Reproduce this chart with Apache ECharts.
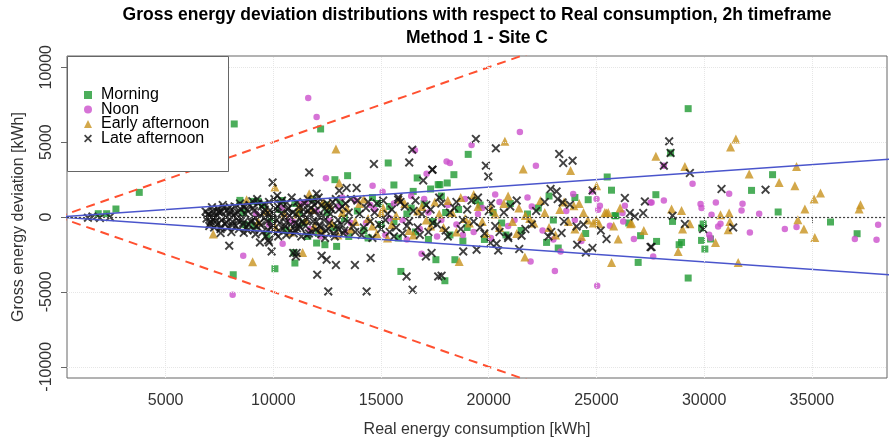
<!DOCTYPE html>
<html>
<head>
<meta charset="utf-8">
<script src="https://cdn.jsdelivr.net/npm/echarts@6/dist/echarts.min.js"></script>
<style>html,body{margin:0;padding:0;background:#fff}#c{width:889px;height:439px}</style>
</head>
<body>
<div id="c"></div>
<script>
// ---------- data ----------
var seriesNames = ['Morning', 'Noon', 'Early afternoon', 'Late afternoon'];
var xTicks = [5000, 10000, 15000, 20000, 25000, 30000, 35000];
var yTicks = [-10000, -5000, 0, 5000, 10000];
var xRange = [420, 38490];
var yRange = [-10750, 10750];
var refSlopesRed = [0.5, -0.5];
var refSlopesBlue = [0.1, -0.1];

var morning = [[1871,220],[2260,220],[2692,534],[3775,1643],[8184,6212],[8138,-3855],[12195,5878],[15333,3607],[12859,2492],[13448,2759],[16679,2605],[17654,2158],[17301,1870],[15597,2138],[16493,1710],[8449,1109],[9066,1042],[9298,1042],[10073,-3454],[11001,-3073],[12937,-1963],[15921,-3634],[17964,-4255],[19047,4182],[18382,2826],[17732,2158],[18073,2271],[25500,2672],[25700,1790],[27759,1490],[24617,1156],[25856,87],[26938,-3033],[23226,-2071],[22685,-1697],[27049,-1249],[27792,-1630],[18429,-2852],[17547,-2852],[29259,7234],[28442,4275],[33177,2826],[32201,1777],[33437,334],[35868,-334],[28533,-294],[29955,-468],[29880,-735],[29259,-4075],[37103,-1116],[30297,-1470],[30033,-2138],[29880,-1563],[28840,-1850],[28952,-1697],[25903,87],[12009,-1737],[8681,-514],[12394,-1850],[10955,-2385],
[8600,300],[9100,-600],[9500,800],[9900,-200],[10300,500],[10600,-900],[11000,900],[11400,-400],[11800,1200],[12100,-1100],[12500,300],[12800,-700],[13100,1000],[13500,-1300],[13900,400],[14200,-900],[14600,1300],[15000,-500],[15400,700],[15800,-1400],[16200,200],[16600,-1000],[17000,900],[17400,-300],[17800,1400],[18200,-1200],[18600,500],[19000,-700],[19400,1100],[19800,-1500],[20200,300],[20600,-400],[21000,900],[21500,-900],[22300,600],[23000,-200],[24000,1300],[24500,-1100],[26500,-400],
[9700,-1200],[10400,1100],[11200,300],[11600,-1300],[12400,800],[13300,-100],[14400,-1400],[14900,900],[15600,-300],[16400,600],[17200,-1500],[18000,300],[18800,-1600],[19600,800],[20800,-1200],[21800,200],[22800,1400]];

var noon = [[11619,7949],[12009,6680],[8110,-5190],[8602,-2585],[12441,2579],[16572,4449],[17115,2892],[14608,2091],[15072,1690],[21446,5678],[19204,4810],[18044,3714],[18197,3607],[22189,3427],[23921,1536],[27513,975],[25006,1202],[25160,755],[25082,488],[26242,-294],[23071,-3607],[25035,-4589],[21943,-2966],[16882,-2452],[10431,-1784],[23335,-2298],[25624,-581],[26738,-1470],[26320,755],[26212,267],[28130,3427],[29463,2224],[31161,1556],[28130,1109],[27560,975],[29834,868],[29880,601],[30544,975],[31783,888],[31737,441],[32555,220],[30343,154],[38078,-514],[30651,-628],[36997,-1470],[38004,-1516],[34290,-668],[33747,-802],[32123,-1029],[30760,-448],[30232,-1182],[30297,-1403],[27636,-2632],
[9200,200],[9800,-500],[10400,600],[10900,-300],[11300,900],[11700,-800],[12000,400],[12600,-200],[13000,700],[13400,-1000],[13800,1100],[14300,-400],[14700,500],[15200,-1200],[15600,900],[16000,-200],[16400,1400],[16800,-800],[17200,300],[17600,-1300],[18100,800],[18500,-500],[18900,1200],[19300,-1000],[19700,600],[20100,-1400],[20500,1000],[20900,-600],[21800,1300],[22500,-900],[23600,400],[24300,-1600],[24800,1700],
[10700,-100],[11500,1000],[12200,-1300],[13200,1300],[13600,-400],[14500,800],[15400,-100],[16200,-1500],[17000,1200],[17800,-200],[18800,-1200],[19500,200],[20300,1500],[21200,-200],[22000,700],[23000,-1500],[24000,-200]];

var earlyAfternoon = [[7209,-1136],[9038,-2986],[11359,-2365],[12905,4542],[10073,2004],[11665,1556],[13058,2271],[8759,1156],[20749,5050],[21600,3206],[23800,3113],[27759,4048],[25006,2091],[23953,755],[25392,307],[25547,307],[26584,-448],[25702,-3033],[21678,-2672],[18629,-2966],[26010,-1470],[24310,-1296],[24850,-401],[25128,-448],[26631,-401],[25468,267],[29106,3380],[31473,5210],[31226,4676],[32091,2872],[33483,2311],[34212,2091],[34290,3380],[35404,1603],[35107,1202],[34676,534],[28488,534],[28952,441],[30760,154],[31161,267],[37261,822],[37197,534],[34351,-180],[31195,-294],[31580,-3033],[35138,-1363],[34630,-802],[31117,-848],[30529,-1697],[28998,-802],[28794,-2298],[29338,-448],
[9300,-300],[9700,400],[10100,-700],[10500,200],[10800,-1000],[11200,700],[11500,-200],[11900,-600],[12300,1000],[12700,-400],[13200,300],[13600,-800],[14000,900],[14400,-100],[14800,-1100],[15100,600],[15500,-500],[15900,1200],[16300,-900],[16700,400],[17100,-200],[17500,1000],[17900,-700],[18300,300],[18700,1300],[19100,-400],[19500,700],[19900,-1100],[20300,200],[20700,900],[21100,-300],[21400,600],[21900,-100],[22400,1100],[22800,-700],[23300,500],[23700,-300],[24200,900],[24600,-200],[26100,600],[27200,-900],
[11100,200],[11800,500],[12200,-900],[12600,800],[13000,-1200],[13400,600],[13800,-300],[14200,1200],[14600,-600],[15000,300],[15300,-1400],[15700,100],[16100,900],[16500,-1200],[16900,700],[17300,-600],[17700,200],[18100,1100],[18500,-1000],[18900,-100],[19300,1500],[19700,-300],[20100,600],[20500,-700],[20900,1400],[21300,-1100],[21700,100],[22100,-400],[22600,300],[23100,-1200],[23500,1000],[24000,-800],[24400,300],[25000,-200],[25800,-600]];

var lateAfternoon = [[1393,-47],[1600,30],[1950,-60],[2414,0],[6856,374],[7288,-67],[7553,-1069],[7952,-1917],[9377,-1697],[9809,-1697],[9920,-2298],[11080,-2405],[12037,-3854],[12548,-4970],[12241,-2585],[12473,-2852],[12905,-3206],[13787,-3206],[14515,-2739],[14330,-4970],[16184,-3968],[16465,-4856],[17082,-2632],[17347,-2405],[17654,-3968],[16447,4496],[16308,3647],[14669,3540],[11665,2979],[9966,2311],[10180,1423],[17375,3160],[16958,2445],[12009,1556],[13401,1937],[13866,1937],[13058,1757],[15797,1156],[19404,5210],[20331,4583],[17390,3160],[19867,3427],[19976,2712],[23272,4208],[23458,3607],[23892,3761],[22870,1870],[23148,1710],[24821,1777],[26320,1269],[27249,1042],[26552,267],[26784,40],[27171,267],[23428,975],[23768,822],[17811,-3921],[24106,-1850],[24510,-2365],[24821,-2071],[25468,-1470],[27513,-2004],[21415,-2138],[20440,-2231],[20085,-1737],[20364,-1784],[19436,-2185],[18815,-2298],[20903,-1403],[21525,-1249],[22773,-1296],[23382,-1069],[24078,-628],[28377,5050],[28442,4275],[28130,3427],[29338,2939],[30807,1870],[32851,1824],[28533,87],[29106,-468],[31348,-695],[29955,-802],[27560,-2004],[10923,-2405],[11048,-2632],[9762,-1563],
[6900,-100],[7000,200],[7100,-300],[7200,400],[7300,100],[7400,-500],[7500,300],[7600,-200],[7700,600],[7800,0],[7900,-700],[8000,400],[8100,-300],[8200,700],[8300,-100],[8400,-800],[8500,500],[8600,-400],[8700,200],[8800,-900],[8900,800],[9000,-200],[9100,400],[9200,-600],[9300,900],[9400,100],[9500,-1000],[9600,500],[9700,-300],[9800,1000],[9900,-700],[10000,200],[10100,-1100],[10200,700],[10300,-400],[10400,1100],[10500,0],[10600,-1200],[10700,600],[10800,-500],[10900,300],[11000,-900],[11100,1000],[11200,-100],[11300,-1300],[11400,500],[11500,-600],[11600,1200],[11700,200],[11800,-1000],[11900,800],[12000,-300],[12100,1300],[12200,-700],[12300,100],[12400,-1400],[12500,900],[12600,-400],[12700,500],[12800,-1100],[12900,1200],[13000,-200],[13200,700],[13300,-900],[13500,300],[13700,-600],[13900,1100],[14100,-1200],[14300,600],[14500,-300],[14800,900],[15000,-800],[15300,200],[15600,-1300],[15900,1000],[16200,-600],[16500,400],[16800,-1200],[17100,800],[17400,-400],[17700,1300],[18000,-900],[18400,600],[18800,-200],[19200,1100],[19600,-700],[20000,400],[20500,-1000],[21000,700],[22000,-500],[22600,1000],[23500,-300],
[7250,-700],[7650,800],[8050,-1000],[8450,900],[8850,-500],[9250,1200],[9650,-1300],[10050,1200],[10450,-800],[10850,1300],[11250,-700],[11650,-1100],[12050,1000],[12450,-900],[12850,-1300],[8150,100],[8550,-200],[9150,-100],[9550,300],[10150,-200],[10750,100],[11350,-300],[11950,400],[12650,200],[13150,-500],
[6950,150],[7050,-450],[7150,650],[7350,-250],[7450,350],[7550,-800],[7750,-450],[7850,450],[7950,150],[8250,-600],[8350,300],[8650,650],[8750,-700],[8950,-300],[9050,600],[9350,-400],[9450,700],[9750,-850],[9850,450],[9950,-100],
[10250,-900],[10350,900],[10550,-600],[10650,500],[10950,-1100],[11050,200],[11150,-500],[11450,900],[11550,-1200],[11750,600],[11850,-300],[12150,-600],[12250,800],[12350,-200],[12550,-800],[12750,1000],[12950,-600],[13050,500],[13250,-1100],[13350,900],[13450,-300],[13600,1200],[13800,-1000],[14000,200],[14200,-700],[14400,1000],[14600,-1400],[14700,300],[14900,-500],[15100,1100],[15200,-200],[15400,-1000],[15500,500],[15700,-700],[15800,1300],[16000,-1100],[16100,700],[16300,-300],[16600,1100],[16700,-700],[16900,200],[17200,-1000],[17300,500],[17600,-500],[17800,900],[18100,-1300],[18200,300],[18500,1000],[18700,-800],[19000,500],[19300,-300],[19500,1300],[19800,-1100],[20100,900],[20300,-600],[20700,300],[20900,-1300],[21300,1100],[21700,-800],[22200,400],[22900,-1000],[23200,1200],[24400,-500],[25200,-900],
[7100,50],[7600,350],[8100,-550],[8600,750],[9100,-850],[9600,-50],[10100,550],[10600,-350],[11100,-750],[11600,450],[12100,50],
[7025,-600],[7425,550],[7825,-350],[8225,250],[8625,-1050],[9025,1050],[9425,-550],[9825,150],[10225,-1300],[10625,950],[11025,-450],[11425,150],[11825,1050],[12225,-1150],[12625,650],[13025,-850],
[7175,-150],[7575,-650],[7975,650],[8375,-250],[8775,450],[9175,-1150],[9575,850],[9975,-550],[10375,250],[10775,-950],[11175,650],[11575,-150],[11975,-850],[12375,550]];

// ---------- chart ----------
var FONT = 'Liberation Sans, Arial, sans-serif';
var crossPath = 'path://M1.5,0 L5,3.5 L8.5,0 L10,1.5 L6.5,5 L10,8.5 L8.5,10 L5,6.5 L1.5,10 L0,8.5 L3.5,5 L0,1.5 Z';
function plainNum(v) { return String(v); }
function refLine(slope) { return [[0, 0], [45000, 45000 * slope]]; }

var chart = echarts.init(document.getElementById('c'), null, {renderer: 'canvas'});
var option = {
  animation: false,
  backgroundColor: '#fff',
  textStyle: {fontFamily: FONT},
  title: [
    {text: 'Gross energy deviation distributions with respect to Real consumption, 2h timeframe',
     left: 472, top: 1, textAlign: 'center',
     textStyle: {fontSize: 17.5, fontWeight: 'bold', color: '#000', fontFamily: FONT}},
    {text: 'Method 1 - Site C', left: 472, top: 24, textAlign: 'center',
     textStyle: {fontSize: 17.5, fontWeight: 'bold', color: '#000', fontFamily: FONT}}
  ],
  grid: {left: 67, right: 2, top: 56, bottom: 61, show: true, borderColor: '#666', borderWidth: 1,
         backgroundColor: 'transparent', outerBoundsMode: 'none', containLabel: false},
  xAxis: {
    type: 'value', min: xRange[0], max: xRange[1],
    name: 'Real energy consumption [kWh]', nameLocation: 'middle', nameGap: 44,
    nameTextStyle: {fontSize: 16, color: '#333', fontFamily: FONT},
    axisLine: {show: false},
    axisTick: {show: true, length: 6, lineStyle: {color: '#666'}, customValues: xTicks},
    axisLabel: {fontSize: 16, color: '#333', margin: 15, customValues: xTicks, formatter: plainNum, fontFamily: FONT},
    splitLine: {show: false}
  },
  yAxis: {
    type: 'value', min: yRange[0], max: yRange[1],
    name: 'Gross energy deviation [kWh]', nameLocation: 'middle', nameGap: 40,
    nameTextStyle: {fontSize: 16, color: '#333', fontFamily: FONT},
    axisLine: {show: false},
    axisTick: {show: true, length: 6, lineStyle: {color: '#666'}, customValues: yTicks},
    axisLabel: {fontSize: 16, color: '#333', margin: 12, rotate: 90, customValues: yTicks, formatter: plainNum, fontFamily: FONT},
    splitLine: {show: false}
  },
  legend: {
    data: seriesNames, orient: 'vertical', left: 84, top: 87, z: 20,
    itemWidth: 8, itemHeight: 8, itemGap: -1.5, symbolKeepAspect: true,
    padding: 0,
    textStyle: {fontSize: 16, color: '#000', fontFamily: FONT, padding: [0, 0, 0, 4]}
  },
  graphic: [{type: 'rect', left: 67, top: 56, z: 10, shape: {width: 161, height: 115},
             style: {fill: '#fff', stroke: '#666', lineWidth: 1}}],
  series: [
    {name: 'grid', type: 'line', data: [], silent: true, z: 0,
     markLine: {silent: true, symbol: ['none', 'none'], label: {show: false},
       lineStyle: {color: '#e6e6e6', type: 'dotted', width: 1},
       data: xTicks.map(function (v) { return {xAxis: v}; }).concat(yTicks.map(function (v) { return {yAxis: v}; }))}},
    {name: 'zero', type: 'line', data: [], silent: true, z: 1,
     markLine: {silent: true, symbol: ['none', 'none'], label: {show: false},
       lineStyle: {color: '#444', type: [2, 2], width: 1.2},
       data: [{yAxis: 0}]}},
    {name: seriesNames[0], type: 'scatter', data: morning, symbol: 'rect', symbolSize: 7,
     itemStyle: {color: '#1f9a32'}, z: 3},
    {name: seriesNames[1], type: 'scatter', data: noon, symbol: 'circle', symbolSize: 6.5,
     itemStyle: {color: '#cc50cc'}, z: 3},
    {name: seriesNames[2], type: 'scatter', data: earlyAfternoon, symbol: 'triangle', symbolSize: 9,
     itemStyle: {color: '#c8921e'}, z: 3},
    {name: seriesNames[3], type: 'scatter', data: lateAfternoon, symbol: crossPath, symbolSize: 9,
     itemStyle: {color: '#111'}, z: 3},
    {name: 'red+', type: 'line', data: refLine(refSlopesRed[0]), symbol: 'none', silent: true, z: 4,
     lineStyle: {color: '#ff5030', width: 2, type: [9, 6]}},
    {name: 'red-', type: 'line', data: refLine(refSlopesRed[1]), symbol: 'none', silent: true, z: 4,
     lineStyle: {color: '#ff5030', width: 2, type: [9, 6]}},
    {name: 'blue+', type: 'line', data: refLine(refSlopesBlue[0]), symbol: 'none', silent: true, z: 4,
     lineStyle: {color: '#4a55cc', width: 1.5}},
    {name: 'blue-', type: 'line', data: refLine(refSlopesBlue[1]), symbol: 'none', silent: true, z: 4,
     lineStyle: {color: '#4a55cc', width: 1.5}}
  ]
};
chart.setOption(option);
</script>
</body>
</html>
